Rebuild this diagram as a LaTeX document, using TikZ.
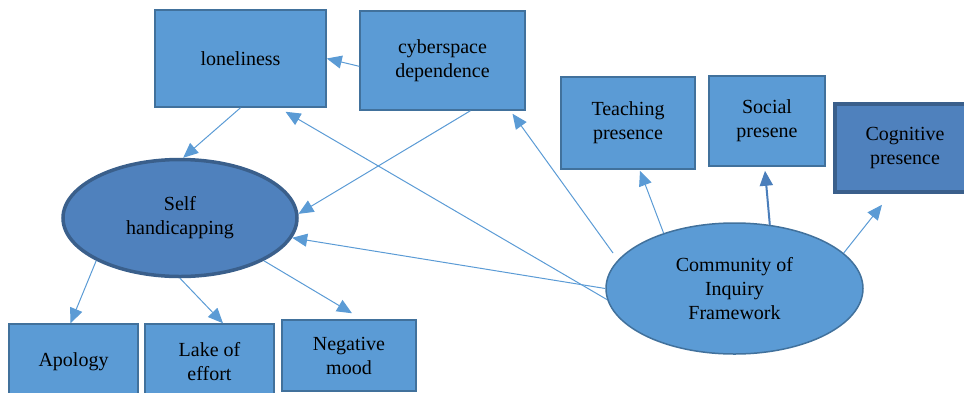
\documentclass[tikz,border=0pt]{standalone}
\usepackage{fontspec}
\setmainfont{LiberationSerif}[Extension=.ttf, UprightFont=*-Regular, BoldFont=*-Bold]
\usetikzlibrary{arrows.meta,calc,shapes.geometric}
\definecolor{boxfill}{HTML}{5B9BD5}
\definecolor{boxline}{HTML}{41719C}
\definecolor{darkfill}{HTML}{4F81BD}
\definecolor{darkline}{HTML}{3A5F8B}
\definecolor{arrowc}{HTML}{5B9BD5}
\definecolor{arrowdark}{HTML}{4A7EBB}
\tikzset{
  lbl/.style={font=\rmfamily\fontsize{20}{24}\selectfont, align=center, inner sep=0pt, text=black},
  plainbox/.style={lbl, rectangle, fill=boxfill, draw=boxline, line width=1.5pt},
  darkbox/.style={lbl, rectangle, fill=darkfill, draw=darkline, line width=3.5pt},
  plainell/.style={lbl, ellipse, fill=boxfill, draw=boxline, line width=1.5pt},
  darkell/.style={lbl, ellipse, fill=darkfill, draw=darkline, line width=3.5pt},
  conn/.style={draw=arrowc, line width=1pt, -{Triangle[length=15pt,width=13pt]}, arrowc},
  connbold/.style={draw=arrowdark, line width=2pt, -{Triangle[length=15pt,width=13pt]}, arrowdark}
}
\begin{document}
\begin{tikzpicture}[x=1pt,y=-1pt]
\useasboundingbox (0,0) rectangle (964,392);
\clip (0,0) rectangle (964,392);
% nodes
\node[plainbox, minimum width=171pt, minimum height=97pt] (lone) at (240.5,58.5) {loneliness};
\node[plainbox, minimum width=165pt, minimum height=99pt] (cyber) at (442.5,60.5) {cyberspace\\dependence};
\node[plainbox, minimum width=134pt, minimum height=92pt] (teach) at (628,123) {Teaching\\presence};
\node[plainbox, minimum width=116pt, minimum height=90pt] (social) at (767,121) {Social\\presene};
\node[darkbox, minimum width=140pt, minimum height=88pt] (cog) at (905,148) {Cognitive\\presence};
\node[darkell, minimum width=234pt, minimum height=117pt] (self) at (180,218) {Self\\handicapping};
\node[plainell, minimum width=257pt, minimum height=131pt] (coi) at (734.5,288.5) {Community of\\Inquiry\\Framework};
\node[plainbox, minimum width=129pt, minimum height=76pt] (apology) at (73.5,362) {Apology};
\node[plainbox, minimum width=129pt, minimum height=76pt] (lake) at (209.5,362) {Lake of\\effort};
\node[plainbox, minimum width=134pt, minimum height=71pt] (neg) at (349,355.5) {Negative\\mood};
% connectors
\draw[conn] (cyber.184.5) -- (lone.east);
\draw[conn] (lone.south) -- (self.87);
\draw[conn] (cyber.-61.8) -- (self.2);
\draw[conn] (coi.185.6) -- ($(lone.south)+(45,4)$);
\draw[conn] (coi.west) -- (self.-10);
\draw[conn] ($(coi.center)+(-121.5,-35.5)$) -- ($(cyber.south)+(70,3)$);
\draw[conn] (coi.142) -- ($(teach.south)+(12,1)$);
\draw[connbold] (coi.61.5) -- ($(social.south)+(-2,4)$);
\draw[conn] (coi.18.1) -- ($(cog.south)+(-23,11)$);
\draw[conn] (self.207) -- ($(apology.north)+(-3,0)$);
\draw[conn] (self.south) -- ($(lake.north)+(13.5,0)$);
\draw[conn] (self.-27) -- ($(neg.north)+(3,-6)$);
\end{tikzpicture}
\end{document}
